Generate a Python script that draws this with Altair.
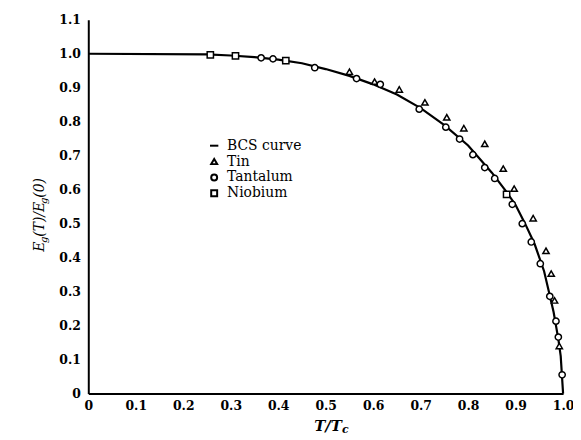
import altair as alt
import pandas as pd

# BCS curve
bcs_t = [0.0, 0.25, 0.30, 0.35, 0.40, 0.45, 0.50, 0.55, 0.60, 0.65, 0.70, 0.75,
         0.80, 0.85, 0.88, 0.90, 0.92, 0.94, 0.96, 0.97, 0.98, 0.99, 0.995, 1.0]
bcs_gap = [1.0, 0.998, 0.995, 0.99, 0.983, 0.972, 0.955, 0.935, 0.91, 0.88, 0.84, 0.79,
           0.73, 0.65, 0.595, 0.555, 0.50, 0.44, 0.36, 0.30, 0.24, 0.16, 0.11, 0.0]

tin_t = [0.55, 0.603, 0.655, 0.709, 0.755, 0.791, 0.835, 0.874, 0.897, 0.937, 0.964, 0.975, 0.982, 0.992]
tin_gap = [0.947, 0.918, 0.895, 0.857, 0.813, 0.781, 0.735, 0.662, 0.603, 0.516, 0.42, 0.353, 0.274, 0.14]

ta_t = [0.364, 0.389, 0.477, 0.565, 0.615, 0.697, 0.753, 0.782, 0.81, 0.835, 0.856, 0.893,
        0.914, 0.933, 0.952, 0.972, 0.985, 0.99, 0.998]
ta_gap = [0.988, 0.985, 0.959, 0.927, 0.91, 0.837, 0.784, 0.749, 0.703, 0.665, 0.633, 0.557,
          0.50, 0.446, 0.382, 0.286, 0.213, 0.166, 0.055]

nb_t = [0.257, 0.31, 0.416, 0.881]
nb_gap = [0.997, 0.994, 0.98, 0.586]

series_names = ["BCS curve", "Tin", "Tantalum", "Niobium"]
shapes = ["M-1.4,0L1.4,0", "triangle-up", "circle", "square"]

x_ticks = [0, 0.1, 0.2, 0.3, 0.4, 0.5, 0.6, 0.7, 0.8, 0.9, 1.0]
y_ticks = [0, 0.1, 0.2, 0.3, 0.4, 0.5, 0.6, 0.7, 0.8, 0.9, 1.0, 1.1]

bcs_df = pd.DataFrame({"t": bcs_t, "gap": bcs_gap})
pts_df = pd.concat([
    pd.DataFrame({"t": tin_t, "gap": tin_gap, "series": "Tin"}),
    pd.DataFrame({"t": ta_t, "gap": ta_gap, "series": "Tantalum"}),
    pd.DataFrame({"t": nb_t, "gap": nb_gap, "series": "Niobium"}),
])

lab_expr = "datum.value == 0 ? '0' : format(datum.value, '.1f')"
xscale = alt.Scale(domain=[0, 1.0], nice=False, zero=False)
yscale = alt.Scale(domain=[0, 1.1], nice=False)

axis_common = dict(domainColor="black", domainWidth=2, ticks=False, grid=False,
                   labelFont="DejaVu Serif", labelFontWeight="bold", labelFontSize=12.5,
                   labelColor="black", labelExpr=lab_expr, title=None,
                   labelOverlap=False, labelFlush=False)

xenc = alt.X("t:Q", scale=xscale,
             axis=alt.Axis(values=x_ticks, labelPadding=6, **axis_common))
yenc = alt.Y("gap:Q", scale=yscale,
             axis=alt.Axis(values=y_ticks, labelPadding=8, **axis_common))

line = alt.Chart(bcs_df).mark_line(color="black", strokeWidth=2.2).encode(x=xenc, y=yenc)

points = alt.Chart(pts_df).mark_point(filled=False, color="black", fill="white",
                                      fillOpacity=1, strokeWidth=1.5, size=40,
                                      opacity=1).encode(
    x=xenc, y=yenc,
    shape=alt.Shape("series:N", scale=alt.Scale(domain=series_names, range=shapes),
                    legend=alt.Legend(title=None, orient="none", legendX=120, legendY=120,
                                      labelFont="DejaVu Serif", labelFontSize=14,
                                      labelColor="black", symbolSize=36,
                                      symbolStrokeWidth=2, rowPadding=2, labelOffset=6))
)

one = pd.DataFrame({"a": [0]})

def txt(s, x, y, dx=0, dy=0, size=13, angle=0, weight="normal"):
    return alt.Chart(one).mark_text(text=s, font="DejaVu Serif", fontStyle="italic",
                                    fontWeight=weight, fontSize=size, color="black",
                                    align="left", baseline="middle", dx=dx, dy=dy,
                                    angle=angle).encode(x=alt.value(x), y=alt.value(y))

# y title: E_g(T)/E_g(0), rotated
yx, yy = -49, 234
ytitle = [
    txt("E", yx, yy, dx=0, size=14, angle=270),
    txt("g", yx, yy, dx=8.8, dy=4, size=10, angle=270),
    txt("(T)/E", yx, yy, dx=15.2, size=14, angle=270),
    txt("g", yx, yy, dx=48.2, dy=4, size=10, angle=270),
    txt("(0)", yx, yy, dx=54.6, size=14, angle=270),
]
# x title: T/T_c
xx, xy = 228, 410
xtitle = [
    txt("T/T", xx, xy, size=15, weight="bold"),
    txt("c", xx, xy, dx=28, dy=4, size=11, weight="bold"),
]

chart = alt.layer(line, points, *ytitle, *xtitle).properties(
    width=479, height=377,
    autosize=alt.AutoSizeParams(type="none"),
    padding={"left": 81, "top": 10, "right": 10, "bottom": 45},
).configure_view(stroke=None)

chart.save("out.html", embed_options={"renderer": "svg", "actions": False})
